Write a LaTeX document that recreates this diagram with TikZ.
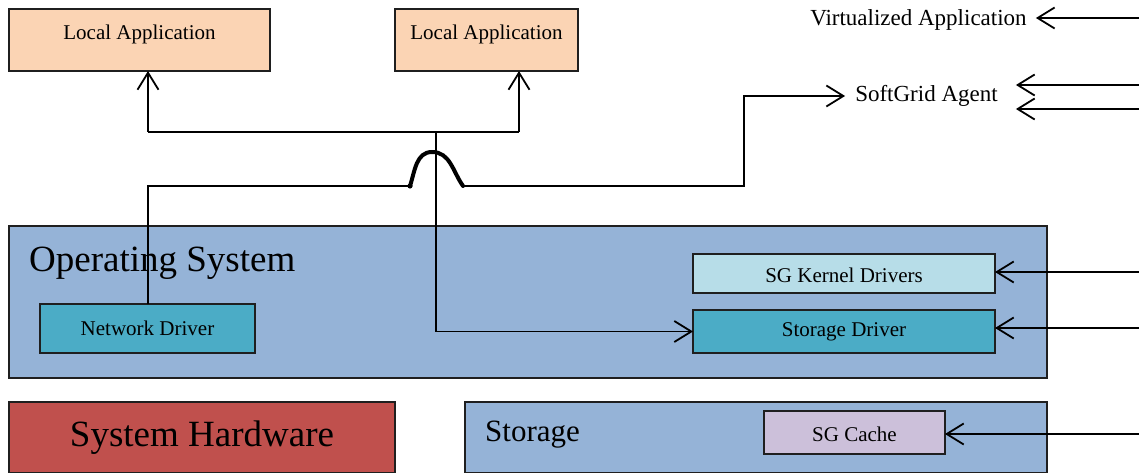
\documentclass[tikz,border=0pt]{standalone}
\usepackage{fontspec}
\setmainfont{Liberation Serif}
\usetikzlibrary{arrows.meta,calc}
\definecolor{peach}{HTML}{FBD4B4}
\definecolor{osblue}{HTML}{95B3D7}
\definecolor{tealbox}{HTML}{4BACC6}
\definecolor{lightteal}{HTML}{B7DDE8}
\definecolor{hwred}{HTML}{C0504D}
\definecolor{lilac}{HTML}{CCC0DA}
\definecolor{edgecol}{HTML}{1F1F1F}
\begin{document}
\begin{tikzpicture}[x=1pt,y=-1pt,
  box/.style={draw=edgecol, line width=1.3pt, inner sep=0pt, outer sep=0pt,
    font=\fontsize{21}{25}\selectfont},
  txt/.style={inner sep=0pt, font=\fontsize{21}{25}\selectfont},
  conn/.style={line width=1.8pt, black},
  arr/.style={conn, -{Straight Barb[length=17pt,width=21pt]}},
  hump/.style={line width=4pt, black, line cap=round}
]
\useasboundingbox (0,0) rectangle (1139,473);
% boxes
\node[box, fill=peach, minimum width=261pt, minimum height=62pt] (la1) at (139.5,40) {};
\node[txt] (t1) at (139.5,34) {Local Application};
\node[box, fill=peach, minimum width=183pt, minimum height=62pt] (la2) at (486.5,40) {};
\node[txt] (t2) at (486.5,34) {Local Application};
\node[box, fill=osblue, minimum width=1038pt, minimum height=152pt] (os) at (528,302) {};
\node[inner sep=0pt, anchor=west, font=\fontsize{37}{40}\selectfont] (oslabel) at (29,263) {Operating System};
\node[box, fill=tealbox, minimum width=215pt, minimum height=49pt] (nd) at (147.5,328.5) {Network Driver};
\node[box, fill=lightteal, minimum width=302pt, minimum height=39pt, text height=17pt, text depth=0pt] (kd) at (844,273.5) {SG Kernel Drivers};
\node[box, fill=tealbox, minimum width=302pt, minimum height=43pt] (st) at (844,331.5) {Storage Driver};
\node[box, fill=hwred, minimum width=386pt, minimum height=71pt, font=\fontsize{37}{40}\selectfont] (hw) at (202,437.5) {System Hardware};
\node[box, fill=osblue, minimum width=582pt, minimum height=71pt] (sto) at (756,437.5) {};
\node[inner sep=0pt, anchor=west, font=\fontsize{31}{34}\selectfont] (stlabel) at (485,435) {Storage};
\node[box, fill=lilac, minimum width=181pt, minimum height=43pt, text height=17pt, text depth=0pt] (sc) at (854.5,432.5) {SG Cache};
% right-hand labels
\node[inner xsep=9pt, inner ysep=0pt, font=\fontsize{23}{26}\selectfont] (va) at (918.5,20) {Virtualized Application};
\node[inner xsep=10pt, inner ysep=0pt, font=\fontsize{23}{26}\selectfont] (sg) at (926.5,96) {SoftGrid Agent};
\coordinate (sgR) at ($(sg.east)+(8,0)$);
% coordinates
\coordinate (jL) at (148,132);
\coordinate (jR) at (519,132);
\coordinate (J) at (436,132);
\coordinate (h1) at (410,186);
\coordinate (hp) at (432,152);
\coordinate (h2) at (463,186);
\coordinate (c1) at (744,96);
\coordinate (inVA) at (1139,18);
\coordinate (inSG1) at (1139,85);
\coordinate (inSG2) at (1139,109);
\coordinate (inKD) at (1139,272);
\coordinate (inST) at (1139,328);
\coordinate (inSC) at (1139,434);
% connectors
\draw[conn] (jL) -- (jR);
\draw[arr] (jL) -- (jL |- la1.south);
\draw[arr] (jR) -- (jR |- la2.south);
\draw[arr] (J) |- (st.west);
\draw[conn] (nd.north -| jL) -- (jL |- h1) -- (h1);
\draw[hump] (h1) to[out=72,in=180] (hp) to[out=0,in=125] (h2);
\fill (h1) circle (2.6pt);
\draw[arr] (h2) -| (c1) -- (sg.west);
\draw[arr] (inVA) -- (inVA -| va.east);
\draw[arr] (inSG1) -- (inSG1 -| sgR);
\draw[arr] (inSG2) -- (inSG2 -| sgR);
\draw[arr] (inKD) -- (inKD -| kd.east);
\draw[arr] (inST) -- (inST -| st.east);
\draw[arr] (inSC) -- (inSC -| sc.east);
\end{tikzpicture}
\end{document}
